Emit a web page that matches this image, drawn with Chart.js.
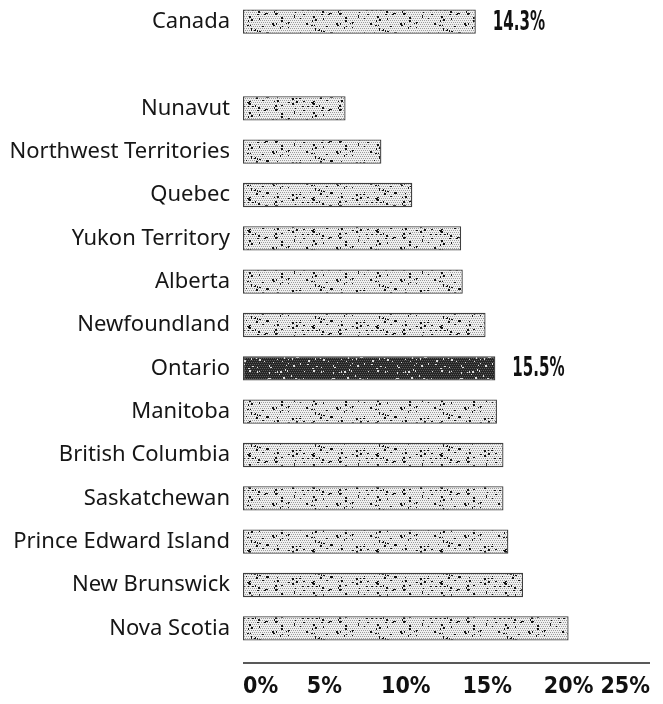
<!DOCTYPE html>
<html lang="en">
<head>
    <meta charset="UTF-8">
    <title>Provinces and territories</title>
    <script src="https://cdn.jsdelivr.net/npm/chart.js"></script>
    <style>
        body { margin: 0; background: #fff; }
        .chart-box { width: 663px; height: 704px; }
    </style>
</head>
<body>
    <div class="chart-box">
        <canvas id="rateChart"></canvas>
    </div>

    <script>
        // Rows from top to bottom; the blank one is the gap under Canada
        const categories = ['Canada', '', 'Nunavut', 'Northwest Territories', 'Quebec', 'Yukon Territory',
            'Alberta', 'Newfoundland', 'Ontario', 'Manitoba', 'British Columbia', 'Saskatchewan',
            'Prince Edward Island', 'New Brunswick', 'Nova Scotia'];
        const values = [14.3, null, 6.3, 8.5, 10.4, 13.4, 13.5, 14.9, 15.5, 15.6, 16.0, 16.0, 16.3, 17.2, 20.0];
        const highlight = 'Ontario';
        const valueLabels = ['Canada', 'Ontario'];
        const xTicks = [0, 5, 10, 15, 20, 25];

        const narrowFont = '"Liberation Sans Narrow", "DejaVu Sans", sans-serif';

        // Stippled fill: fine dot grid plus coarser specks
        function stipple(bg, fine, speck, count, seed) {
            const c = document.createElement('canvas');
            c.width = 64; c.height = 32;
            const g = c.getContext('2d');
            g.fillStyle = bg;
            g.fillRect(0, 0, 64, 32);
            let s = seed;
            const next = () => (s = (s * 16807) % 2147483647) / 2147483647;
            g.fillStyle = fine;
            for (let y = 0; y < 32; y += 2) {
                for (let x = (y / 2) % 2; x < 64; x += 2) g.fillRect(x, y, 1, 1);
            }
            g.fillStyle = speck;
            for (let i = 0; i < count; i++) {
                g.fillRect(Math.floor(next() * 64), Math.floor(next() * 32),
                    1 + Math.floor(next() * 2), 1 + Math.floor(next() * 2));
            }
            return g.createPattern(c, 'repeat');
        }

        const lightFill = stipple('#f0f0f0', '#9c9c9c', '#111', 70, 12345);
        const darkFill = stipple('#262626', '#5c5c5c', '#e0e0e0', 60, 777);

        // Baseline under the bars and the value labels at the bar ends
        const extras = {
            id: 'extras',
            afterDraw(chart) {
                const { ctx, chartArea, scales: { x } } = chart;
                ctx.save();
                ctx.strokeStyle = '#222';
                ctx.lineWidth = 1.5;
                ctx.beginPath();
                ctx.moveTo(x.left, chartArea.bottom + 13);
                ctx.lineTo(x.right, chartArea.bottom + 13);
                ctx.stroke();
                ctx.restore();

                const meta = chart.getDatasetMeta(0);
                categories.forEach((name, i) => {
                    if (!valueLabels.includes(name)) return;
                    const bar = meta.data[i];
                    ctx.save();
                    ctx.translate(bar.x + 17, bar.y + 1);
                    ctx.scale(0.62, 1);
                    ctx.fillStyle = '#111';
                    ctx.font = 'bold condensed 27px ' + narrowFont;
                    ctx.textBaseline = 'middle';
                    ctx.fillText(values[i].toFixed(1) + '%', 0, 0);
                    ctx.restore();
                });
            }
        };

        new Chart(document.getElementById('rateChart'), {
            type: 'bar',
            data: {
                labels: categories,
                datasets: [{
                    data: values,
                    backgroundColor: categories.map(c => c === highlight ? darkFill : lightFill),
                    borderColor: 'rgba(15,15,15,0.8)',
                    borderWidth: 1.3,
                    borderSkipped: false,
                    barPercentage: 0.56,
                    categoryPercentage: 1
                }]
            },
            options: {
                indexAxis: 'y',
                responsive: true,
                maintainAspectRatio: false,
                animation: false,
                layout: { padding: { top: 0, right: 13, bottom: 0, left: 0 } },
                plugins: {
                    legend: { display: false },
                    tooltip: { enabled: false }
                },
                scales: {
                    x: {
                        min: 0,
                        max: 25,
                        afterBuildTicks: scale => { scale.ticks = xTicks.map(v => ({ value: v })); },
                        afterFit: scale => {
                            scale.height = 54;
                            scale.paddingLeft = 0;
                            scale.paddingRight = 0;
                        },
                        grid: { display: false, drawTicks: false },
                        border: { display: false },
                        ticks: {
                            align: 'inner',
                            padding: 23,
                            color: '#111',
                            font: { family: narrowFont, size: 23, weight: 'bold condensed' },
                            callback: v => v + '%'
                        }
                    },
                    y: {
                        afterFit: scale => {
                            scale.width = 243;
                            scale.paddingTop = 0;
                            scale.paddingBottom = 0;
                        },
                        grid: { display: false, drawTicks: false },
                        border: { display: false },
                        ticks: {
                            padding: 13,
                            color: '#161616',
                            font: { family: '"Noto Sans", "Open Sans", sans-serif', size: 22 }
                        }
                    }
                }
            },
            plugins: [extras]
        });
    </script>
</body>
</html>
